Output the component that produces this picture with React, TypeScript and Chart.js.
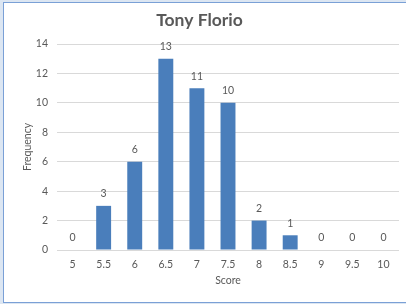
import React, { useEffect, useRef } from "react";
import { Chart, registerables } from "chart.js";

Chart.register(...registerables);

const categories = ["5", "5.5", "6", "6.5", "7", "7.5", "8", "8.5", "9", "9.5", "10"];
const frequencies = [0, 3, 6, 13, 11, 10, 2, 1, 0, 0, 0];
const chartTitle = "Tony Florio";
const xTitle = "Score";
const yTitle = "Frequency";

const TEXT = "#595959";
const FONT = "Lato, 'Open Sans', sans-serif";
const FS = 10.5;

const dataLabels = {
  id: "dataLabels",
  afterDatasetsDraw(chart: any) {
    const { ctx } = chart;
    const meta = chart.getDatasetMeta(0);
    const data = chart.data.datasets[0].data;
    ctx.save();
    ctx.fillStyle = TEXT;
    ctx.font = `${FS}px ${FONT}`;
    ctx.textAlign = "center";
    ctx.textBaseline = "middle";
    meta.data.forEach((bar: any, i: number) => {
      ctx.fillText(String(data[i]), bar.x, bar.y - 12);
    });
    ctx.restore();
  },
};

export default function App() {
  const ref = useRef<HTMLCanvasElement>(null);
  useEffect(() => {
    if (!ref.current) return;
    const chart = new Chart(ref.current, {
      type: "bar",
      data: {
        labels: categories,
        datasets: [
          {
            data: frequencies,
            backgroundColor: "#4a7ebb",
            barPercentage: 0.48,
            categoryPercentage: 1,
          },
        ],
      },
      options: {
        animation: false,
        responsive: false,
        maintainAspectRatio: false,
        layout: { padding: { left: 0, right: 7, top: 0, bottom: 0 } },
        plugins: {
          legend: { display: false },
          tooltip: { enabled: false },
          title: {
            display: true,
            text: chartTitle,
            color: TEXT,
            font: { family: FONT, size: 17.5, weight: "bold" },
            padding: { top: 10, bottom: 13 },
          },
        },
        scales: {
          x: {
            grid: { display: false, drawTicks: false },
            border: { display: false },
            ticks: { color: TEXT, font: { family: FONT, size: FS }, padding: 8, maxRotation: 0 },
            title: {
              display: true,
              text: xTitle,
              color: TEXT,
              font: { family: FONT, size: FS },
              padding: { top: 0, bottom: 17 },
            },
            afterFit(scale: any) {
              scale.height = 54;
            },
          },
          y: {
            min: 0,
            max: 14,
            ticks: { stepSize: 2, color: TEXT, font: { family: FONT, size: FS }, padding: 9 },
            grid: { color: "#d9d9d9", drawTicks: false },
            border: { display: false },
            title: {
              display: true,
              text: yTitle,
              color: TEXT,
              font: { family: FONT, size: FS },
              padding: { top: 21, bottom: 0 },
            },
            afterFit(scale: any) {
              scale.width = 57;
            },
          },
        },
      },
      plugins: [dataLabels],
    });
    return () => chart.destroy();
  }, []);

  return (
    <div
      style={{
        position: "fixed",
        left: 0,
        top: 0,
        width: 406,
        height: 304,
        background: "#dce6f2",
        overflow: "hidden",
      }}
    >
      <div
        style={{
          position: "absolute",
          left: 3,
          top: 2,
          width: 420,
          height: 301,
          boxSizing: "border-box",
          border: "1px solid #7aa0d6",
          background: "#ffffff",
        }}
      />
      <canvas
        ref={ref}
        width={406}
        height={304}
        style={{ position: "absolute", left: 0, top: 0, width: 406, height: 304 }}
      />
    </div>
  );
}
